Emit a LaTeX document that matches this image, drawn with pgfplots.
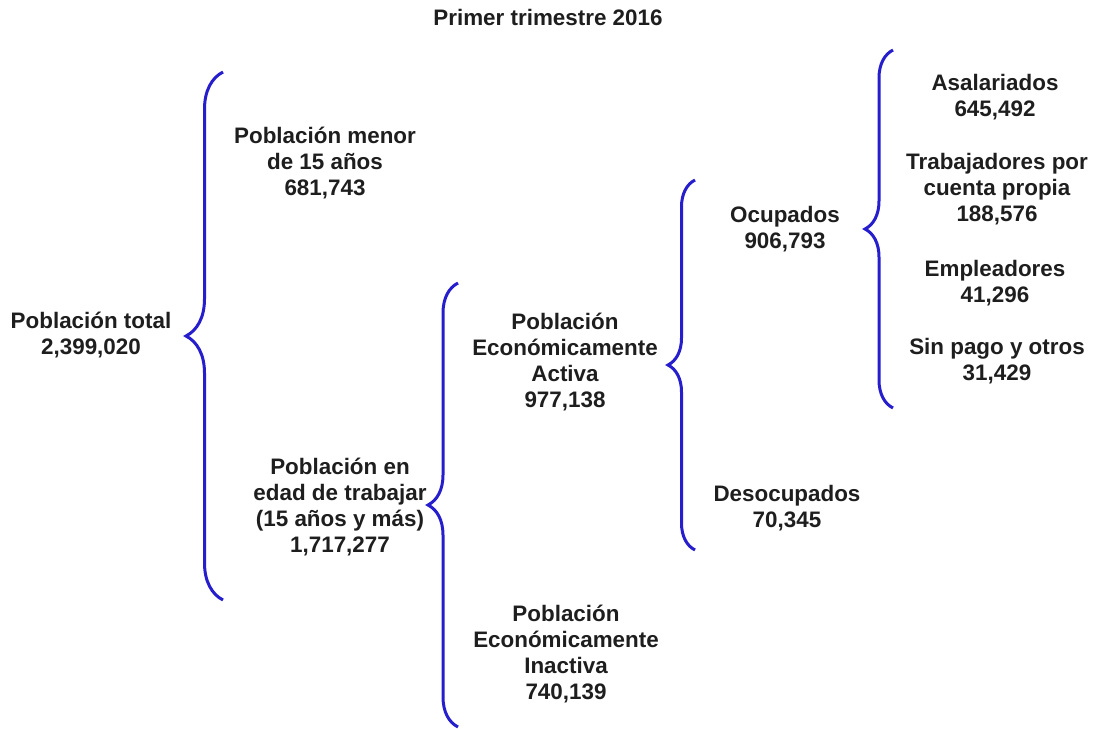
\documentclass[border=0pt]{standalone}
\usepackage{pgfplots}
\pgfplotsset{compat=1.18}
\usepackage{fontspec}
\setmainfont{Liberation Sans}
\usetikzlibrary{decorations.pathreplacing}
\definecolor{braceblue}{RGB}{38,30,205}
\definecolor{txt}{RGB}{30,30,30}
\begin{document}
\begin{tikzpicture}
\begin{axis}[
  width=547pt, height=364.5pt, scale only axis,
  xmin=0, xmax=1094, ymin=0, ymax=729, y dir=reverse,
  hide axis, clip=false,
  every node near coord/.style={anchor=center, align=center, text=txt,
     font=\fontsize{11.2}{13}\selectfont\bfseries, inner sep=0pt},
]
% braces
\addplot[braceblue, line width=1.5pt, decorate,
  decoration={brace, amplitude=18.5pt}] coordinates {(223,600) (223,72)};
\addplot[braceblue, line width=1.5pt, decorate,
  decoration={brace, amplitude=15pt}] coordinates {(458,727) (458,283)};
\addplot[braceblue, line width=1.5pt, decorate,
  decoration={brace, amplitude=13.5pt}] coordinates {(695,550) (695,180)};
\addplot[braceblue, line width=1.5pt, decorate,
  decoration={brace, amplitude=14pt}] coordinates {(893,408) (893,50)};
% labels
\addplot[only marks, mark=none, nodes near coords, point meta=explicit symbolic]
 coordinates {
  (548,17) [{Primer trimestre 2016}]
  (91,335) [{Población total\\2,399,020}]
  (325,163) [{Población menor\\de 15 años\\681,743}]
  (340,507) [{Población en\\edad de trabajar\\(15 años y más)\\1,717,277}]
  (565,362) [{Población\\Económicamente\\Activa\\977,138}]
  (566,654) [{Población\\Económicamente\\Inactiva\\740,139}]
  (785,229) [{Ocupados\\906,793}]
  (787,508) [{Desocupados\\70,345}]
  (995,97) [{Asalariados\\645,492}]
  (997,189) [{Trabajadores por\\cuenta propia\\188,576}]
  (995,283) [{Empleadores\\41,296}]
  (997,361) [{Sin pago y otros\\31,429}]
 };
\end{axis}
\pgfresetboundingbox
\path (0,0) rectangle (547pt,364.5pt);
\end{tikzpicture}
\end{document}
